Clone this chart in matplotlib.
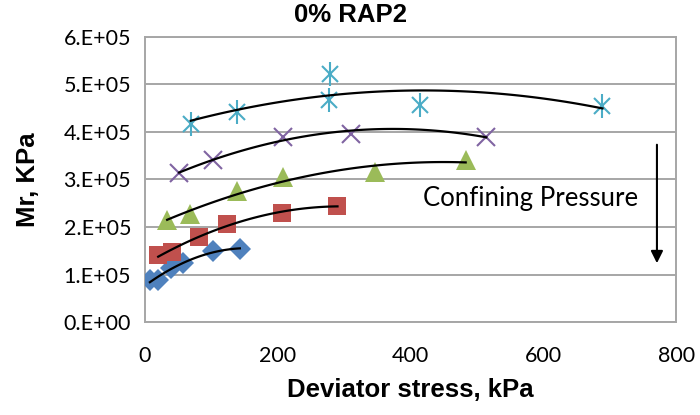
import numpy as np
import matplotlib.pyplot as plt
from matplotlib.ticker import FuncFormatter

# deviator stress (kPa) and Mr (kPa) per confining pressure level
x1 = [7.5, 19.5, 40, 58, 103, 143]
y1 = [88400, 89000, 113000, 124000, 149000, 154000]
x2 = [20, 41, 82, 124, 207, 290]
y2 = [141000, 148000, 178600, 207000, 230000, 244000]
x3 = [33.5, 68, 138, 208, 346, 483]
y3 = [215000, 227000, 276000, 305000, 315000, 341000]
x4 = [51.6, 103, 208, 310, 514]
y4 = [313000, 341000, 390000, 396000, 390000]
x5 = [69, 139, 278, 277, 414, 689]
y5 = [417000, 443000, 522000, 467000, 457000, 455000]

plt.rcParams['font.family'] = ['Liberation Sans', 'DejaVu Sans']

fig = plt.figure(figsize=(7, 4.15), dpi=100)
ax = fig.add_axes([0.207, 0.224, 0.759, 0.687])

grid_c = '#A6A6A6'
ax.set_axisbelow(True)
ax.grid(axis='y', color=grid_c, linewidth=1.4)
for s in ax.spines.values():
    s.set_color(grid_c)
    s.set_linewidth(1.4)

ax.plot(x1, y1, 'D', color='#4F81BD', markersize=11, markeredgewidth=0, zorder=3)
ax.plot(x2, y2, 's', color='#C0504D', markersize=13, markeredgewidth=0, zorder=3)
ax.plot(x3, y3, '^', color='#9BBB59', markersize=15, markeredgewidth=0, zorder=3)
ax.plot(x4, y4, 'x', color='#8064A2', markersize=13, markeredgewidth=1.5, zorder=3)
ax.plot(x5, y5, 'x', color='#4BACC6', markersize=12, markeredgewidth=1.5, zorder=3)
ax.plot(x5, y5, '|', color='#4BACC6', markersize=17, markeredgewidth=1.5, zorder=3)

# second order polynomial trendlines
for xs, ys in [(x1, y1), (x2, y2), (x3, y3), (x4, y4), (x5, y5)]:
    c = np.polyfit(xs, ys, 2)
    xx = np.linspace(min(xs), max(xs), 100)
    ax.plot(xx, np.polyval(c, xx), color='black', linewidth=1.6, zorder=4)

ax.annotate('', xy=(771, 118000), xytext=(771, 379000),
            arrowprops=dict(arrowstyle='-|>', color='black', lw=1.5, mutation_scale=18))
ax.text(580, 261000, 'Confining Pressure', fontsize=18.5, family=['Lato', 'DejaVu Sans'],
        ha='center', va='center')

ax.set_xlim(0, 800)
ax.set_ylim(0, 600000)
ax.set_xticks([0, 200, 400, 600, 800])
ax.set_yticks(np.arange(0, 600001, 100000))
ax.yaxis.set_major_formatter(FuncFormatter(
    lambda v, p: '0.E+00' if v == 0 else f'{v / 1e5:.0f}.E+05'))
ax.tick_params(length=0, labelsize=15.5)
ax.tick_params(axis='y', pad=10)
ax.tick_params(axis='x', pad=17)
for lab in ax.get_xticklabels() + ax.get_yticklabels():
    lab.set_family(['Lato', 'DejaVu Sans'])

ax.set_xlabel('Deviator stress, kPa', fontsize=18.5, fontweight='bold', labelpad=9)
ax.set_ylabel('Mr, KPa', fontsize=18.5, fontweight='bold', labelpad=17)
fig.text(0.5, 0.963, '0% RAP2', fontsize=18.5, fontweight='bold', ha='center', va='center')

fig.savefig('out.png', dpi=100)
